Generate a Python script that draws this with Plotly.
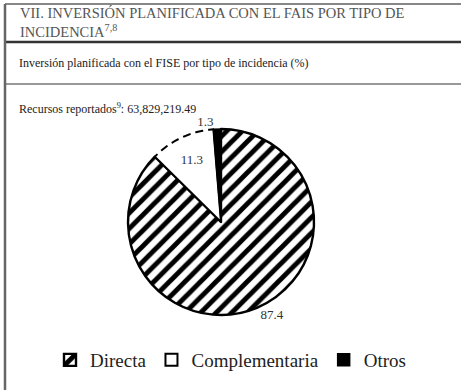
import numpy as np
import plotly.graph_objects as go

# Planned investment by incidence type (%)
categories = ["Directa", "Complementaria", "Otros"]
shares = [87.4, 11.3, 1.3]
total_resources = "63,829,219.49"

title_lines = ["VII. INVERSIÓN PLANIFICADA CON EL FAIS POR TIPO DE",
               "INCIDENCIA<sup>7,8</sup>"]
subtitle = "Inversión planificada con el FISE por tipo de incidencia (%)"

W, H = 461, 390
SERIF = "Liberation Serif"

# pie geometry in pixels -> paper domain
cx, cy, r = 221, 222, 93
dom_x = [(cx - r) / W, (cx + r) / W]
dom_y = [(H - cy - r) / H, (H - cy + r) / H]

fig = go.Figure()

fig.add_trace(go.Pie(
    labels=categories,
    values=shares,
    sort=False,
    direction="clockwise",
    rotation=0,
    domain=dict(x=dom_x, y=dom_y),
    texttemplate="%{value:.1f}",
    textposition=["outside", "inside", "outside"],
    insidetextorientation="horizontal",
    textfont=dict(family=SERIF, size=13, color="#333"),
    outsidetextfont=dict(family=SERIF, size=13, color="#333"),
    marker=dict(
        colors=["white", "white", "black"],
        line=dict(color="black", width=[2.4, 2.0, 1.5]),
        pattern=dict(shape=["/", "", ""], fgcolor="black", bgcolor="white",
                     size=11, solidity=0.45),
    ),
    showlegend=True,
))

# dashed look on the Complementaria arc: white gaps over its outline
cum = np.cumsum([0] + shares) / sum(shares) * 2 * np.pi
ang = np.linspace(cum[1] + 0.04, cum[2] - 0.02, 40)
px = cx + r * np.sin(ang)
py = cy - r * np.cos(ang)
path = "M " + " L ".join(f"{x / W:.5f},{1 - y / H:.5f}" for x, y in zip(px, py))
fig.add_shape(type="path", path=path, xref="paper", yref="paper",
              line=dict(color="white", width=4.5, dash="5px,8px"), layer="above")

fig.update_layout(
    width=W, height=H,
    margin=dict(l=0, r=0, t=0, b=0),
    paper_bgcolor="white",
    plot_bgcolor="white",
    font=dict(family=SERIF),
    legend=dict(
        orientation="h", x=0.5, xanchor="center", y=(H - 360) / H,
        yanchor="middle",
        font=dict(family=SERIF, size=19, color="#222"),
        itemwidth=30,
    ),
)

# frame lines
line_specs = [
    dict(x0=5 / W, x1=1, y0=1 - 4 / H, y1=1 - 4 / H, color="#888", width=2),
    dict(x0=5 / W, x1=1, y0=1 - 42 / H, y1=1 - 42 / H, color="#333", width=2.5),
    dict(x0=5 / W, x1=1, y0=1 - 84 / H, y1=1 - 84 / H, color="#999", width=2),
    dict(x0=5 / W, x1=5 / W, y0=0, y1=1 - 4 / H, color="#666", width=2.5),
]
for s in line_specs:
    fig.add_shape(type="line", xref="paper", yref="paper",
                  x0=s["x0"], x1=s["x1"], y0=s["y0"], y1=s["y1"],
                  line=dict(color=s["color"], width=s["width"]))

fig.add_annotation(xref="paper", yref="paper", x=18 / W, y=1 - 22 / H,
                   xanchor="left", yanchor="middle", align="left",
                   showarrow=False,
                   text="<br>".join(title_lines),
                   font=dict(family=SERIF, size=14.5, color="#555"))
fig.add_annotation(xref="paper", yref="paper", x=17 / W, y=1 - 63 / H,
                   xanchor="left", yanchor="middle", showarrow=False,
                   text=subtitle,
                   font=dict(family=SERIF, size=12, color="#222"))
fig.add_annotation(xref="paper", yref="paper", x=17 / W, y=1 - 108 / H,
                   xanchor="left", yanchor="middle", showarrow=False,
                   text="Recursos reportados<sup>9</sup>: " + total_resources,
                   font=dict(family=SERIF, size=12, color="#222"))

fig.write_html("out.html")
